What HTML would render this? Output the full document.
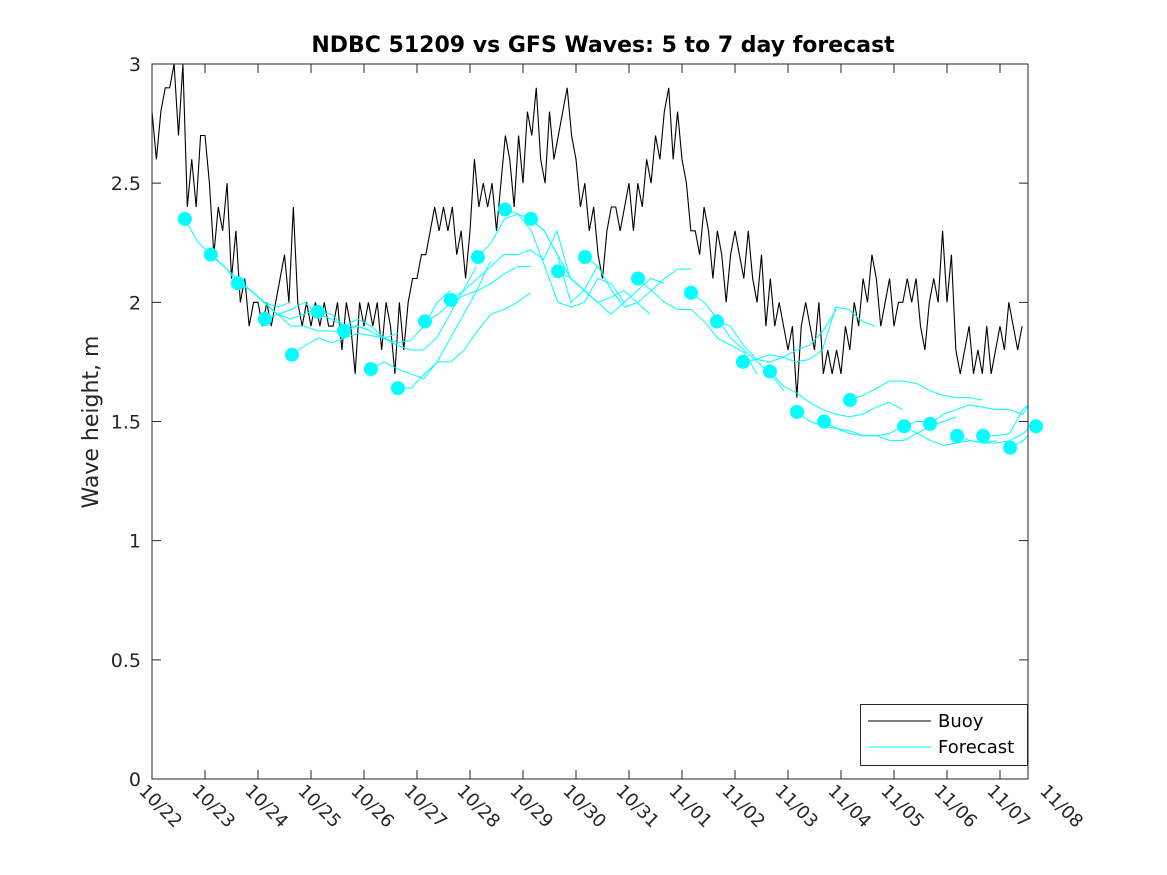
<!DOCTYPE html>
<html><head><meta charset="utf-8"><style>
body{margin:0;background:#fff;}
svg{display:block;font-family:"DejaVu Sans","Liberation Sans",sans-serif;}
</style></head><body>
<svg id="chart" width="1167" height="875" xmlns="http://www.w3.org/2000/svg">
<defs><clipPath id="clip"><rect x="152" y="64" width="876" height="715"/></clipPath></defs>
<rect x="0" y="0" width="1167" height="875" fill="#fff"/>
<text x="603" y="52" text-anchor="middle" font-size="22" font-weight="bold">NDBC 51209 vs GFS Waves: 5 to 7 day forecast</text>
<text transform="translate(98,422) rotate(-90)" text-anchor="middle" font-size="22" fill="#262626">Wave height, m</text>
<g id="axes"></g>
<g id="buoy" clip-path="url(#clip)"></g>
<g id="fc" clip-path="url(#clip)"></g>
<g id="dots"></g>
<rect x="152" y="64" width="876" height="715" fill="none" stroke="#262626" stroke-width="1"/>
<g>
<rect x="860.5" y="704.5" width="167" height="61" fill="#fff" stroke="#262626"/>
<line x1="868" y1="721" x2="931" y2="721" stroke="#000"/>
<text x="938" y="727" font-size="18">Buoy</text>
<line x1="868" y1="747" x2="931" y2="747" stroke="#00ffff"/>
<text x="938" y="753" font-size="18">Forecast</text>
</g>
</svg>
<script>
const xLabels=["10/22","10/23","10/24","10/25","10/26","10/27","10/28","10/29","10/30","10/31","11/01","11/02","11/03","11/04","11/05","11/06","11/07","11/08"];
const yTicks=[0,0.5,1,1.5,2,2.5,3];
const buoyStep=1/12;
const buoyValues=[
2.8,2.6,2.8,2.9,2.9,3.0,2.7,3.0,2.4,2.6,2.4,2.7,
2.7,2.5,2.2,2.4,2.3,2.5,2.1,2.3,2.0,2.1,1.9,2.0,
2.0,1.9,2.0,1.9,2.0,2.1,2.2,2.0,2.4,2.0,1.9,2.0,
1.9,2.0,1.9,2.0,1.9,1.9,2.0,1.8,2.0,1.9,1.7,2.0,
1.9,2.0,1.9,2.0,1.8,2.0,1.9,1.7,2.0,1.8,2.0,2.1,
2.1,2.2,2.2,2.3,2.4,2.3,2.4,2.3,2.4,2.2,2.3,2.1,
2.3,2.6,2.4,2.5,2.4,2.5,2.3,2.5,2.7,2.6,2.4,2.7,
2.5,2.8,2.7,2.9,2.6,2.5,2.8,2.6,2.7,2.8,2.9,2.7,
2.6,2.4,2.5,2.3,2.4,2.2,2.1,2.3,2.4,2.4,2.3,2.4,
2.5,2.3,2.5,2.4,2.6,2.5,2.7,2.6,2.8,2.9,2.6,2.8,
2.6,2.5,2.3,2.3,2.2,2.4,2.3,2.1,2.3,2.2,2.0,2.2,
2.3,2.2,2.1,2.3,2.1,2.0,2.2,1.9,2.1,1.9,2.0,1.9,
1.8,1.9,1.6,1.9,2.0,1.9,1.8,2.0,1.7,1.8,1.7,1.8,
1.7,1.9,1.8,2.0,1.9,2.1,2.0,2.2,2.1,1.9,2.0,2.1,
1.9,2.0,2.0,2.1,2.0,2.1,1.9,1.8,2.0,2.1,2.0,2.3,
2.0,2.2,1.8,1.7,1.8,1.9,1.7,1.8,1.7,1.9,1.7,1.8,
1.9,1.8,2.0,1.9,1.8,1.9];
const fcStarts=[0.62,1.11,1.62,2.13,2.64,3.13,3.62,4.13,4.64,5.15,5.64,6.15,6.66,7.15,7.66,8.17,9.17,10.17,10.66,11.15,11.66,12.17,12.68,13.17,14.19,14.68,15.19,15.68,16.19,16.68];
const dotValues=[2.35,2.20,2.08,1.93,1.78,1.96,1.88,1.72,1.64,1.92,2.01,2.19,2.39,2.35,2.13,2.19,2.10,2.04,1.92,1.75,1.71,1.54,1.50,1.59,1.48,1.49,1.44,1.44,1.39,1.48];
const fcStep=0.25;
const fcLines=[
[2.35,2.25,2.2,2.15,2.08,2.05,2.0,1.98,2.0],
[2.2,2.15,2.1,2.05,2.0,1.95,1.93,1.95,1.97],
[2.08,2.05,2.0,1.95,1.9,1.9,1.88,1.88,1.87],
[1.93,1.95,1.97,2.0,1.95,1.93,1.9,1.9,1.88],
[1.78,1.82,1.85,1.83,1.85,1.87,1.86,1.85,1.87],
[1.96,1.95,1.9,1.93,1.9,1.85,1.83,1.84,1.9,2.0,2.05],
[1.88,1.9,1.88,1.85,1.82,1.8,1.8,1.85,1.95,2.05,2.15],
[1.72,1.75,1.72,1.7,1.68,1.75,1.85,1.95,2.05,2.17],
[1.64,1.64,1.7,1.75,1.75,1.8,1.88,1.95,1.97,2.0,2.04],
[1.92,1.95,2.0,2.03,2.05,2.08,2.12,2.15,2.15],
[2.01,2.05,2.1,2.15,2.2,2.2,2.22,2.18,2.3,2.1],
[2.19,2.25,2.35,2.37,2.35,2.3,2.2,2.0,2.05,2.15],
[2.39,2.37,2.3,2.15,2.0,1.98,2.0,2.1,2.08,2.0],
[2.35,2.3,2.2,2.1,2.05,2.0,2.02,2.05,2.0,1.95],
[2.13,2.1,2.05,2.0,1.95,2.0,2.05,2.1,2.08],
[2.19,2.15,2.05,1.98,2.0,2.05,2.1,2.14,2.14],
[2.10,2.05,2.0,1.97,1.97,1.92,1.85,1.82,1.79,1.7],
[2.04,2.0,1.93,1.85,1.8,1.75,1.7,1.63],
[1.92,1.9,1.82,1.76,1.75,1.77,1.8,1.82,1.88,1.97],
[1.75,1.76,1.78,1.77,1.75,1.76,1.8,1.98,1.97,1.92,1.9],
[1.71,1.65,1.62,1.58,1.55,1.53,1.52,1.53,1.56,1.58,1.55],
[1.54,1.5,1.48,1.47,1.45,1.44,1.44,1.45,1.48,1.5,1.5],
[1.50,1.47,1.46,1.44,1.44,1.42,1.42,1.45,1.48,1.5,1.52],
[1.59,1.61,1.64,1.67,1.67,1.66,1.63,1.61,1.6,1.6,1.59],
[1.48,1.45,1.42,1.4,1.41,1.42,1.41,1.42],
[1.49,1.53,1.55,1.57,1.56,1.55,1.55,1.53,1.62],
[1.44,1.42,1.41,1.41,1.42,1.45,1.5,1.55,1.55,1.6,1.7],
[1.44,1.44,1.45,1.55,1.6,1.7,1.8,1.9],
[1.39,1.42,1.48,1.55,1.62,1.72,1.85],
[1.48,1.55,1.65]
];
const NS="http://www.w3.org/2000/svg";
const X0=152,PXD=53,Y0=779,PXM=238.33;
function xs(d){return X0+d*PXD;}
function ys(v){return Y0-v*PXM;}
function mk(t,a,p){const e=document.createElementNS(NS,t);for(const k in a)e.setAttribute(k,a[k]);p.appendChild(e);return e;}
const axes=document.getElementById('axes');
yTicks.forEach((v,i)=>{
 const y=ys(v);
 const l=mk('path',{d:`M152 ${y}h9M1028 ${y}h-9`,stroke:'#262626',fill:'none'},axes);
 
 
 const t=mk('text',{x:141,y:y+7,'text-anchor':'end','font-size':19,fill:'#262626'},axes);
 t.textContent=String(v);
 
 
});
xLabels.forEach((s,i)=>{
 const x=xs(i);
 if(x<=1028){
  const l=mk('path',{d:`M${x} 779v-9M${x} 64v9`,stroke:'#262626',fill:'none'},axes);
  
  
 }
 const t=mk('text',{transform:`translate(${x-14},${792}) rotate(45)`,'font-size':18,fill:'#262626'},axes);
 t.textContent=s;
 
 
});
const bg=document.getElementById('buoy');
const bp=mk('polyline',{points:buoyValues.map((v,i)=>xs(i*buoyStep)+','+ys(v)).join(' '),fill:'none',stroke:'#000','stroke-width':1.1},bg);


const fg=document.getElementById('fc');
fcLines.forEach((arr,k)=>{
 const p=mk('polyline',{points:arr.map((v,i)=>xs(fcStarts[k]+i*fcStep)+','+ys(v)).join(' '),fill:'none',stroke:'#00ffff','stroke-width':1},fg);
 
 
});
const dg=document.getElementById('dots');
dotValues.forEach((v,k)=>{
 const c=mk('circle',{cx:xs(fcStarts[k]),cy:ys(v),r:7,fill:'#00ffff'},dg);
 
 
});
</script>
</body></html>
